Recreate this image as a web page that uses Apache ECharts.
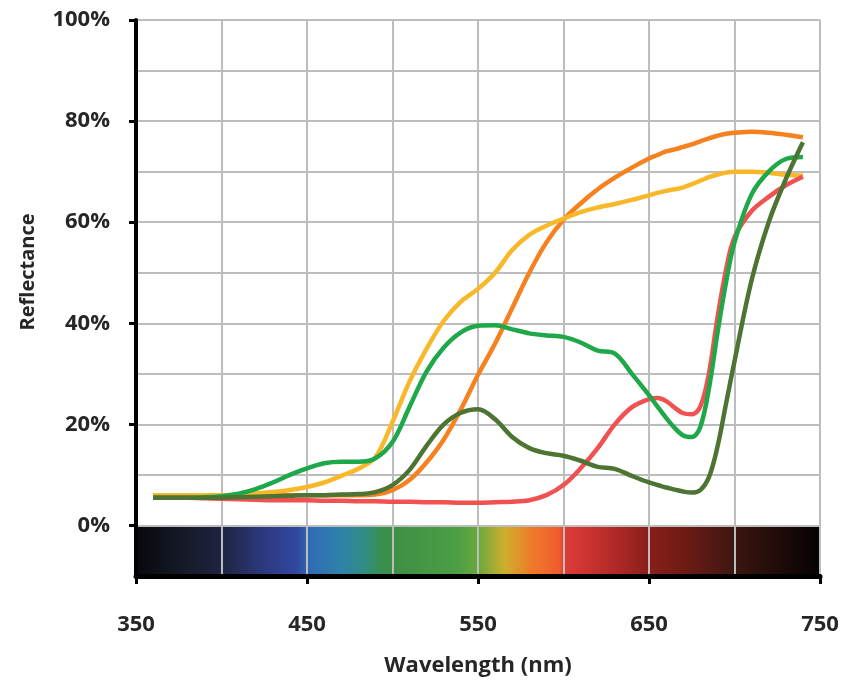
<!DOCTYPE html>
<html>
<head>
<meta charset="utf-8">
<script src="https://cdn.jsdelivr.net/npm/echarts@6/dist/echarts.min.js"></script>
<style>
html,body{margin:0;padding:0;background:#fff;}
#chart{width:843px;height:684px;}
</style>
</head>
<body>
<div id="chart"></div>
<script>
// ---- Data ----
const wavelengths = [360,370,380,390,400,410,420,430,440,450,460,470,480,490,500,510,520,530,540,550,560,570,580,590,600,610,620,630,640,650,655,660,665,670,675,680,685,690,695,700,710,720,730,740];

const orangeVals = [6.0,6.0,6.0,6.0,6.0,6.0,6.0,6.0,6.0,6.0,6.0,6.0,6.0,6.1,7.0,9.0,12.5,17.0,23.0,29.8,36.0,43.0,50.0,56.0,60.5,63.7,66.5,68.8,70.8,72.6,73.3,74.0,74.4,74.9,75.4,76.0,76.6,77.1,77.5,77.7,77.9,77.7,77.3,76.8];
const yellowVals = [6.0,6.0,6.0,6.0,6.0,6.1,6.3,6.6,7.0,7.6,8.5,9.8,11.2,13.5,20.5,28.5,35.0,40.5,44.3,46.8,50.0,54.5,57.5,59.3,60.7,62.0,62.9,63.6,64.4,65.3,65.8,66.2,66.5,66.9,67.5,68.2,68.9,69.4,69.8,70.0,70.0,69.8,69.4,69.2];
const redVals = [5.5,5.5,5.5,5.4,5.3,5.2,5.1,5.0,5.0,5.0,4.9,4.9,4.8,4.8,4.7,4.7,4.6,4.6,4.5,4.5,4.6,4.7,5.0,6.0,8.0,11.3,15.3,20.0,23.4,25.0,25.2,24.6,23.3,22.2,22.0,23.5,30.0,41.0,50.5,57.0,62.2,65.0,67.3,69.0];
const greenVals = [5.5,5.5,5.5,5.6,5.8,6.3,7.2,8.5,10.0,11.3,12.3,12.6,12.6,13.3,16.5,23.5,30.5,35.2,38.2,39.5,39.6,38.8,38.0,37.6,37.3,36.2,34.6,34.0,30.0,25.8,23.5,21.3,19.3,17.8,17.5,19.5,27.0,38.0,48.0,56.0,65.5,70.0,72.5,72.9];
const oliveVals = [5.5,5.5,5.5,5.5,5.5,5.6,5.7,5.8,5.9,6.0,6.0,6.1,6.2,6.6,8.0,11.0,15.8,20.0,22.3,23.0,21.0,17.5,15.3,14.3,13.8,12.8,11.6,11.2,9.8,8.5,8.0,7.5,7.1,6.7,6.5,7.0,9.5,15.5,24.0,32.5,48.5,60.0,68.5,75.8];

const xTickLabels = [350,450,550,650,750];
const yTickLabels = [0,20,40,60,80,100];
const spectrumBand = [[350, 750, 0, -10]];
const spectrumStops = [
  [0.0,'#08080c'],[0.0625,'#141826'],[0.125,'#1e2440'],[0.19,'#2d3a82'],[0.235,'#3048a0'],
  [0.255,'#2f6cb4'],[0.3,'#2f82aa'],[0.33,'#2e8c88'],[0.36,'#3a8f50'],[0.375,'#3d8f45'],
  [0.47,'#4c9f44'],[0.5,'#6aa83c'],[0.54,'#d0ae2c'],[0.575,'#ec7e2a'],[0.62,'#f05a2c'],
  [0.625,'#e03c36'],[0.69,'#b82c2a'],[0.75,'#8a1e1a'],[0.81,'#6a1a14'],[0.875,'#3c1610'],
  [0.94,'#1e0b08'],[1.0,'#050202']
];

const seriesDefs = [
  {name:'orange', color:'#f5821f', data: orangeVals},
  {name:'yellow', color:'#f8b829', data: yellowVals},
  {name:'red', color:'#f15151', data: redVals},
  {name:'green', color:'#1fa84a', data: greenVals},
  {name:'olive', color:'#4d7432', data: oliveVals}
];

const chart = echarts.init(document.getElementById('chart'), null, {renderer:'canvas'});
const font = 'Open Sans';
const txtColor = '#262626';
const gridColor = '#bdbdbd';

const lineSeries = seriesDefs.map(s => ({
  type:'line', name:s.name, z:3,
  data: wavelengths.map((w,i)=>[w, s.data[i]]),
  smooth:0.35, showSymbol:false, symbol:'none',
  lineStyle:{color:s.color, width:4.5},
  itemStyle:{color:s.color}
}));

chart.setOption({
  animation:false,
  backgroundColor:'#fff',
  grid:{left:136, right:23, top:20, bottom:108, containLabel:false},
  xAxis:[{
    type:'value', min:350, max:750, interval:50, z:4,
    axisLine:{show:true, onZero:false, lineStyle:{color:'#000', width:5}},
    axisTick:{show:true, customValues:xTickLabels, length:8, lineStyle:{color:'#000', width:3}},
    axisLabel:{customValues:xTickLabels, margin:38, fontFamily:font, fontWeight:'bold', fontSize:22, color:txtColor},
    splitLine:{show:false},
    name:'Wavelength (nm)', nameLocation:'middle', nameGap:79,
    nameTextStyle:{fontFamily:font, fontWeight:'bold', fontSize:22, color:txtColor}
  },{
    type:'value', min:350, max:750, interval:50, z:2, position:'top',
    axisLine:{show:false}, axisTick:{show:false}, axisLabel:{show:false},
    splitLine:{show:true, lineStyle:{color:gridColor, width:2}}
  }],
  yAxis:[{
    type:'value', min:-10, max:100, interval:10, z:4,
    axisLine:{show:true, onZero:false, lineStyle:{color:'#000', width:4}},
    axisTick:{show:true, customValues:yTickLabels, length:7, lineStyle:{color:'#000', width:3}},
    axisLabel:{customValues:yTickLabels, margin:26, formatter:v=>v+'%', fontFamily:font, fontWeight:'bold', fontSize:22, color:txtColor},
    splitLine:{show:false},
    name:'Reflectance', nameLocation:'middle', nameGap:98,
    nameTextStyle:{fontFamily:font, fontWeight:'bold', fontSize:20, color:txtColor, padding:[0,0,0,52]}
  },{
    type:'value', min:-10, max:100, interval:10, z:2, position:'right',
    axisLine:{show:false}, axisTick:{show:false}, axisLabel:{show:false},
    splitLine:{show:true, lineStyle:{color:gridColor, width:2}}
  }],
  series:[
    {
      type:'custom', z:1, silent:true,
      data: spectrumBand,
      encode:{x:[0,1], y:[2,3]},
      renderItem:(params, api)=>{
        const p0 = api.coord([api.value(0), api.value(2)]);
        const p1 = api.coord([api.value(1), api.value(3)]);
        return {
          type:'rect',
          shape:{x:p0[0], y:p0[1], width:p1[0]-p0[0], height:p1[1]-p0[1]},
          style:{fill:new echarts.graphic.LinearGradient(0,0,1,0, spectrumStops.map(s=>({offset:s[0], color:s[1]})))}
        };
      }
    }
  ].concat(lineSeries)
});
</script>
</body>
</html>
